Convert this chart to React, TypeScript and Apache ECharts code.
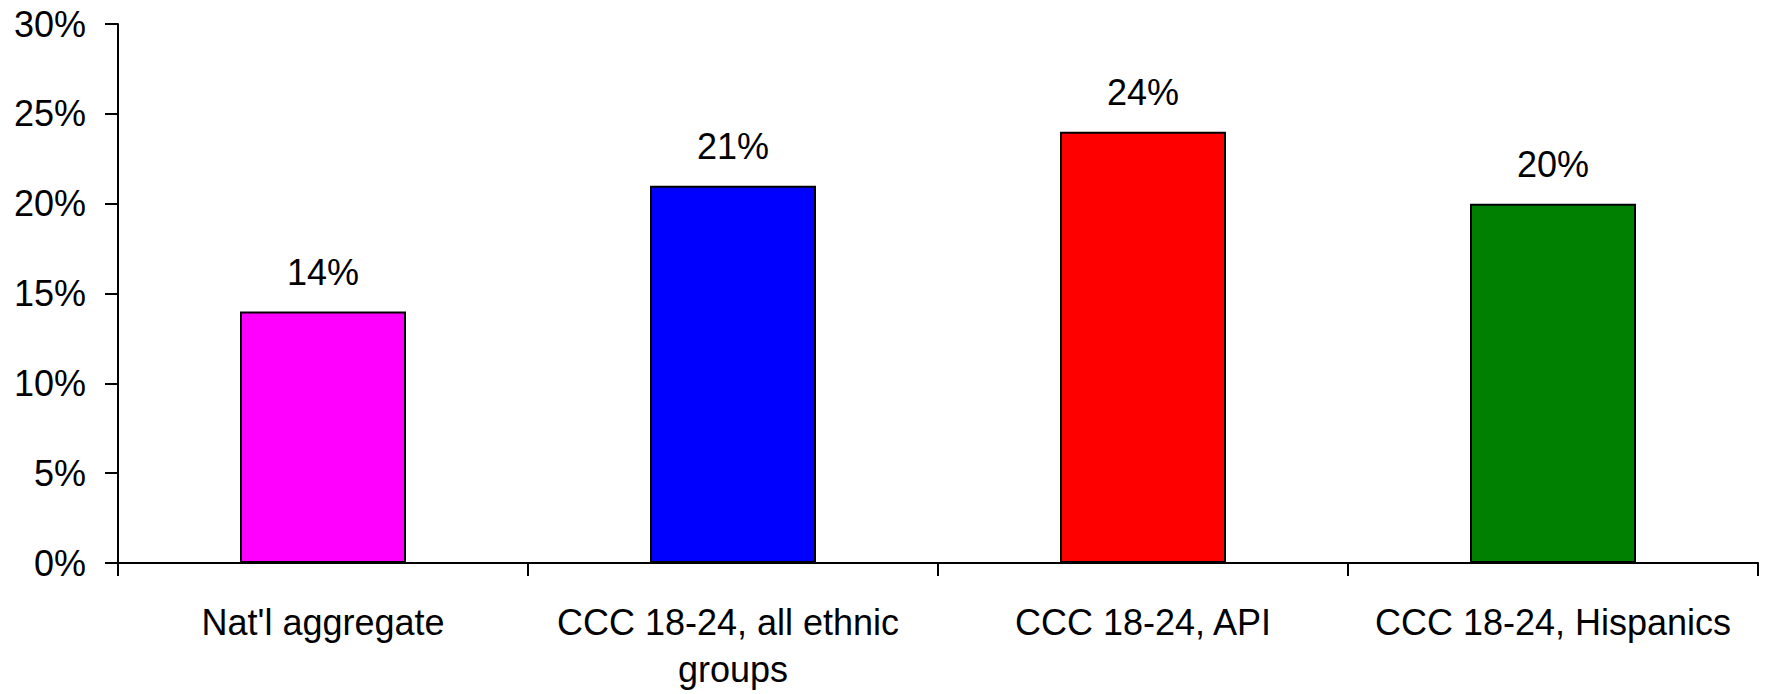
import React, { useEffect, useRef } from "react";
import * as echarts from "echarts";

const categories = [
  "Nat'l aggregate",
  "CCC 18-24, all ethnic groups",
  "CCC 18-24, API",
  "CCC 18-24, Hispanics",
];
const values = [14, 21, 24, 20];
const barColors = ["#FF00FF", "#0000FF", "#FF0000", "#008000"];
const yTicks = { min: 0, max: 30, interval: 5 };

const FONT = "'Liberation Sans', Arial, Helvetica, sans-serif";

export default function App() {
  const ref = useRef<HTMLDivElement>(null);
  useEffect(() => {
    if (!ref.current) return;
    const chart = echarts.init(ref.current, null, { renderer: "svg" });
    chart.setOption({
      animation: false,
      backgroundColor: "#ffffff",
      grid: { left: 118, right: 9, top: 24, bottom: 131, containLabel: false },
      xAxis: {
        type: "category",
        data: categories,
        boundaryGap: true,
        axisLine: { lineStyle: { color: "#000", width: 2 } },
        axisTick: { show: true, length: 13, lineStyle: { color: "#000", width: 2 } },
        axisLabel: {
          color: "#000",
          fontSize: 36,
          fontFamily: FONT,
          margin: 36,
          width: 400,
          overflow: "break",
          lineHeight: 47,
          interval: 0,
        },
        splitLine: { show: false },
      },
      yAxis: {
        type: "value",
        min: yTicks.min,
        max: yTicks.max,
        interval: yTicks.interval,
        axisLine: { show: true, lineStyle: { color: "#000", width: 2 } },
        axisTick: { show: true, length: 13, lineStyle: { color: "#000", width: 2 } },
        axisLabel: {
          color: "#000",
          fontSize: 36,
          fontFamily: FONT,
          margin: 32,
          formatter: "{value}%",
        },
        splitLine: { show: false },
      },
      series: [
        {
          type: "bar",
          barWidth: 166,
          data: values.map((v, i) => ({
            value: v,
            itemStyle: { color: barColors[i], borderColor: "#000", borderWidth: 2 },
          })),
          label: {
            show: true,
            position: "top",
            distance: 21,
            color: "#000",
            fontSize: 36,
            fontFamily: FONT,
            formatter: "{c}%",
          },
        },
      ],
    });
    return () => chart.dispose();
  }, []);
  return (
    <div
      ref={ref}
      style={{ position: "fixed", left: 0, top: 0, width: 1767, height: 694 }}
    />
  );
}
